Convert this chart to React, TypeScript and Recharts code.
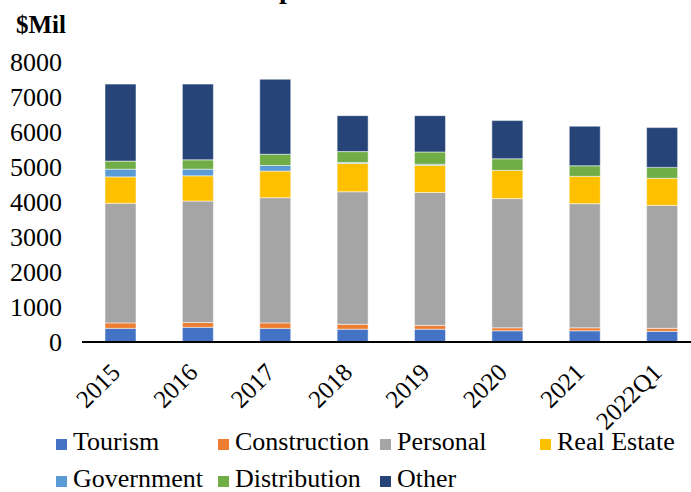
import React from 'react';
import { BarChart, Bar, XAxis, YAxis, Legend } from 'recharts';

const years = ['2015', '2016', '2017', '2018', '2019', '2020', '2021', '2022Q1'];
const tourism = [390, 420, 390, 365, 365, 320, 320, 305];
const construction = [155, 135, 155, 140, 110, 85, 85, 85];
const personal = [3410, 3465, 3570, 3780, 3790, 3685, 3540, 3505];
const realEstate = [755, 720, 760, 805, 775, 805, 780, 775];
const government = [220, 190, 160, 30, 30, 0, 0, 0];
const distribution = [230, 265, 320, 310, 350, 330, 300, 310];
const other = [2195, 2160, 2140, 1025, 1035, 1090, 1130, 1135];
const yTicks = [0, 1000, 2000, 3000, 4000, 5000, 6000, 7000, 8000];

const series = [
  { key: 'Tourism', color: '#4472C4', values: tourism },
  { key: 'Construction', color: '#ED7D31', values: construction },
  { key: 'Personal', color: '#A5A5A5', values: personal },
  { key: 'Real Estate', color: '#FFC000', values: realEstate },
  { key: 'Government', color: '#5B9BD5', values: government },
  { key: 'Distribution', color: '#70AD47', values: distribution },
  { key: 'Other', color: '#264478', values: other },
];
const seriesOrder = series.map((s) => s.key);

const data = years.map((y, i) => {
  const row: Record<string, string | number> = { year: y };
  series.forEach((s) => {
    row[s.key] = s.values[i];
  });
  return row;
});

const FONT = '"Liberation Serif"';
const FS = 26;

const XTick = (props: any) => {
  const { x, y, payload } = props;
  const ax = x + 1;
  const ay = y + 24;
  return (
    <text
      x={ax}
      y={ay}
      textAnchor="end"
      transform={`rotate(-45, ${ax}, ${ay})`}
      style={{ fontFamily: FONT }}
      fontSize={25}
      fill="#000"
    >
      {payload.value}
    </text>
  );
};

const legendCols = [56, 218, 380, 540];
const legendBaselines = [451, 488];
const LH = 24;
const BASE_OFF = (LH - 1.107 * FS) / 2 + 0.891 * FS;

const LegendContent = (props: any) => {
  const payload = [...(props.payload || [])].sort(
    (a: any, b: any) => seriesOrder.indexOf(a.value) - seriesOrder.indexOf(b.value)
  );
  return (
    <div style={{ position: 'relative', width: 691, height: 492 }}>
      {payload.map((p: any, i: number) => {
        const col = i % 4;
        const row = Math.floor(i / 4);
        const left = legendCols[col];
        const base = legendBaselines[row];
        return (
          <React.Fragment key={p.value}>
            <span
              style={{
                position: 'absolute',
                left,
                top: base - 12,
                width: 11,
                height: 11,
                background: p.color,
              }}
            />
            <span
              style={{
                position: 'absolute',
                left: left + 17,
                top: base - BASE_OFF,
                height: LH,
                fontFamily: FONT,
                fontSize: FS,
                color: '#000',
                lineHeight: `${LH}px`,
                whiteSpace: 'nowrap',
              }}
            >
              {p.value}
            </span>
          </React.Fragment>
        );
      })}
    </div>
  );
};

export default function App() {
  return (
    <div
      style={{
        position: 'fixed',
        left: 0,
        top: 0,
        width: 691,
        height: 492,
        overflow: 'hidden',
        background: '#fff',
      }}
    >
      <div style={{ position: 'absolute', left: 0, top: 0 }}>
        <BarChart
          width={710}
          height={492}
          data={data}
          margin={{ top: 61.5, right: 9, left: 0, bottom: 10 }}
          barSize={31}
        >
          <XAxis
            dataKey="year"
            height={140}
            axisLine={{ stroke: '#000', strokeWidth: 2 }}
            tickLine={false}
            interval={0}
            tick={<XTick />}
          />
          <YAxis
            width={82}
            domain={[0, 8000]}
            ticks={yTicks}
            axisLine={false}
            tickLine={false}
            tickMargin={14}
            tick={{ fontSize: FS, fill: '#000', style: { fontFamily: FONT } }}
          />
          <Legend
            layout="horizontal"
            verticalAlign="middle"
            align="center"
            wrapperStyle={{ position: 'absolute', left: 0, top: 0, width: 691, height: 492 }}
            content={<LegendContent />}
          />
          {series.map((s) => (
            <Bar
              key={s.key}
              dataKey={s.key}
              name={s.key}
              stackId="a"
              fill={s.color}
              stroke="#ffffff"
              strokeWidth={0.5}
              isAnimationActive={false}
            />
          ))}
        </BarChart>
      </div>
      <svg
        width={691}
        height={60}
        style={{ position: 'absolute', left: 0, top: 0, pointerEvents: 'none' }}
      >
        <text x={221.5} y={-2} style={{ fontFamily: FONT }} fontWeight="bold" fontSize={28} fill="#000">
          Composition of Loans
        </text>
        <text x={16} y={33} style={{ fontFamily: FONT }} fontWeight="bold" fontSize={25} fill="#000">
          $Mil
        </text>
      </svg>
    </div>
  );
}
